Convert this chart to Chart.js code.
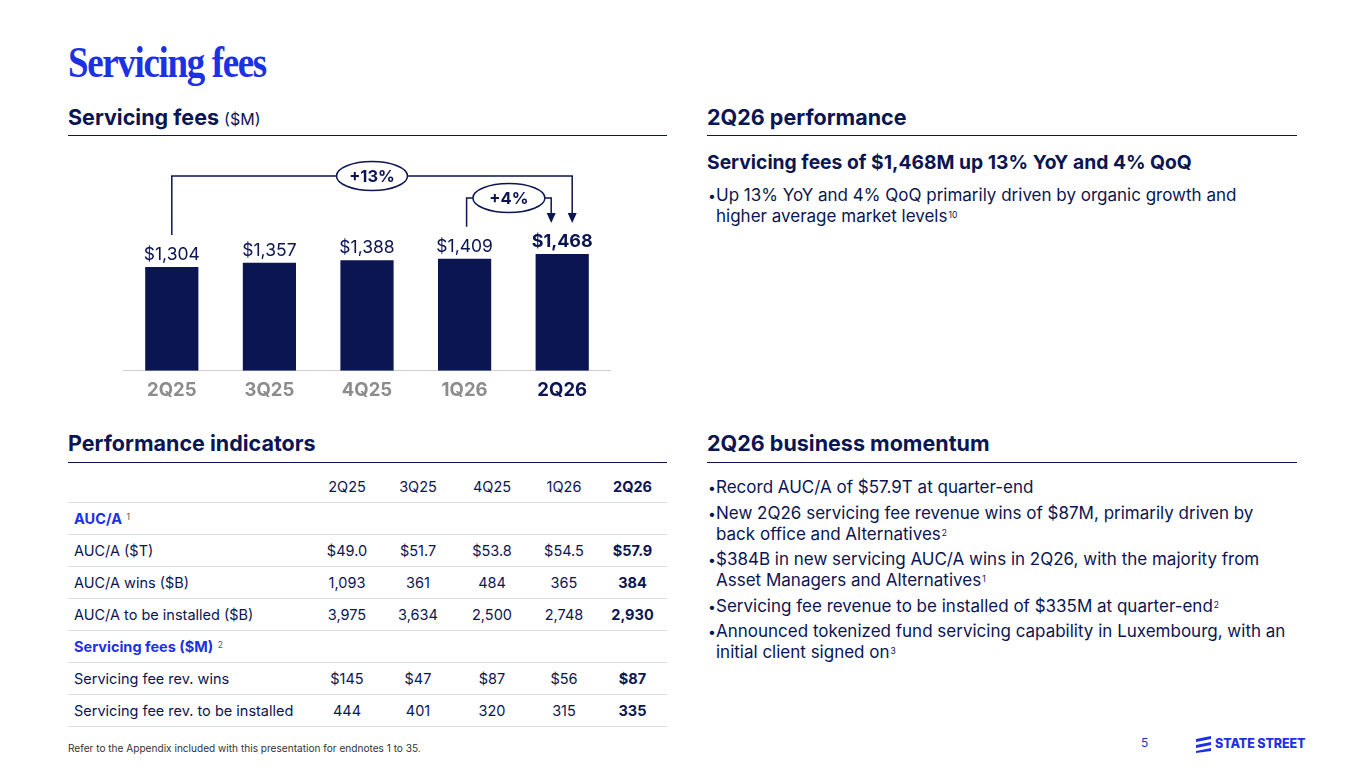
<!DOCTYPE html>
<html>
<head>
<meta charset="utf-8">
<script src="https://cdn.jsdelivr.net/npm/chart.js@4"></script>
<style>
  body { margin: 0; width: 1365px; height: 768px; background: #fff; font-family: Inter, sans-serif; color: #0b1552; position: relative; overflow: hidden; }
  .abs { position: absolute; }
  .title { left: 68px; top: 36px; font-family: "Liberation Serif", serif; font-weight: bold; font-size: 45px; letter-spacing: -1.6px; color: #1c31e4; transform: scaleX(0.82); transform-origin: left; }
  .head { font-weight: 700; font-size: 21.5px; color: #0b1552; }
  .head small { font-weight: 400; font-size: 16px; }
  .rule { height: 1px; background: #0b1552; }
  .lead { font-weight: 700; font-size: 19.3px; }
  ul { margin: 0; padding: 0; list-style: none; font-size: 17px; line-height: 21px; }
  li { position: relative; padding-left: 9px; margin-bottom: 4.5px; }
  li::before { content: "\2022"; position: absolute; left: 1px; top: 0; font-size: 14px; }
  sup { font-size: 8.5px; vertical-align: 4px; line-height: 1; margin-left: 1px; }
  table { border-collapse: collapse; font-size: 14.5px; table-layout: fixed; }
  td { height: 31px; border-bottom: 1px solid #d6dfea; text-align: center; padding: 0; }
  td:first-child { text-align: left; padding-left: 6px; }
  tr.sec td:first-child { color: #1c31e4; font-weight: 700; }
  tr.sec sup { color: #555; font-weight: 400; }
  td.b { font-weight: 700; }
  .foot { left: 68px; top: 742px; font-size: 10.1px; color: #333; }
</style>
</head>
<body>
<div class="abs title">Servicing fees</div>

<div class="abs head" style="left:68px; top:104px;">Servicing fees <small>($M)</small></div>
<div class="abs rule" style="left:68px; top:135px; width:599px;"></div>

<div class="abs head" style="left:707px; top:104px;">2Q26 performance</div>
<div class="abs rule" style="left:707px; top:135px; width:590px;"></div>

<div class="abs" style="left:123px; top:140px; width:488px; height:271px;"><canvas id="feesChart"></canvas></div>

<div class="abs lead" style="left:707px; top:150px;">Servicing fees of $1,468M up 13% YoY and 4% QoQ</div>
<ul class="abs" style="left:707px; top:185px; width:560px;">
  <li>Up 13% YoY and 4% QoQ primarily driven by organic growth and higher average market levels<sup>10</sup></li>
</ul>

<div class="abs head" style="left:68px; top:430px;">Performance indicators</div>
<div class="abs rule" style="left:68px; top:462px; width:599px;"></div>

<div class="abs head" style="left:707px; top:430px;">2Q26 business momentum</div>
<div class="abs rule" style="left:707px; top:462px; width:590px;"></div>

<table class="abs" style="left:68px; top:471px; width:599px;">
  <colgroup><col style="width:244px"><col style="width:70px"><col style="width:72px"><col style="width:76px"><col style="width:68px"><col style="width:69px"></colgroup>
  <tr><td></td><td>2Q25</td><td>3Q25</td><td>4Q25</td><td>1Q26</td><td class="b">2Q26</td></tr>
  <tr class="sec"><td>AUC/A <sup>1</sup></td><td></td><td></td><td></td><td></td><td></td></tr>
  <tr><td>AUC/A ($T)</td><td>$49.0</td><td>$51.7</td><td>$53.8</td><td>$54.5</td><td class="b">$57.9</td></tr>
  <tr><td>AUC/A wins ($B)</td><td>1,093</td><td>361</td><td>484</td><td>365</td><td class="b">384</td></tr>
  <tr><td>AUC/A to be installed ($B)</td><td>3,975</td><td>3,634</td><td>2,500</td><td>2,748</td><td class="b">2,930</td></tr>
  <tr class="sec"><td>Servicing fees ($M) <sup>2</sup></td><td></td><td></td><td></td><td></td><td></td></tr>
  <tr><td>Servicing fee rev. wins</td><td>$145</td><td>$47</td><td>$87</td><td>$56</td><td class="b">$87</td></tr>
  <tr><td>Servicing fee rev. to be installed</td><td>444</td><td>401</td><td>320</td><td>315</td><td class="b">335</td></tr>
</table>

<ul class="abs" style="left:707px; top:477px; width:580px;">
  <li>Record AUC/A of $57.9T at quarter-end</li>
  <li>New 2Q26 servicing fee revenue wins of $87M, primarily driven by back office and Alternatives<sup>2</sup></li>
  <li>$384B in new servicing AUC/A wins in 2Q26, with the majority from Asset Managers and Alternatives<sup>1</sup></li>
  <li>Servicing fee revenue to be installed of $335M at quarter-end<sup>2</sup></li>
  <li>Announced tokenized fund servicing capability in Luxembourg, with an initial client signed on<sup>3</sup></li>
</ul>

<div class="abs foot">Refer to the Appendix included with this presentation for endnotes 1 to 35.</div>
<div class="abs" style="left:1141px; top:735px; font-size:12px; color:#1c31e4;">5</div>
<svg class="abs" style="left:1195px; top:735px;" width="18" height="18" viewBox="0 0 18 18">
  <path d="M1 4 L16 1 L16 4 L1 7 Z M1 10 L16 7 L16 10 L1 13 Z M1 16 L16 13 L16 16 L1 18 Z" fill="#1c31e4"/>
</svg>
<div class="abs" style="left:1215px; top:736px; font-size:12.5px; font-weight:800; color:#1c31e4; letter-spacing:-0.1px;">STATE STREET</div>

<script>
const quarters = ['2Q25', '3Q25', '4Q25', '1Q26', '2Q26'];
const fees = [1304, 1357, 1388, 1409, 1468];
const growthLabels = ['+13%', '+4%'];

const navy = '#0b1552';
Chart.defaults.font.family = 'Inter';

const barLabels = {
  id: 'barLabels',
  afterDatasetsDraw(chart) {
    const ctx = chart.ctx;
    const bars = chart.getDatasetMeta(0).data;
    bars.forEach((bar, i) => {
      const last = i === bars.length - 1;
      ctx.save();
      ctx.font = (last ? '700 18px' : '400 17.5px') + ' Inter';
      ctx.fillStyle = navy;
      ctx.textAlign = 'center';
      ctx.textBaseline = 'alphabetic';
      ctx.fillText('$' + fees[i].toLocaleString('en-US'), bar.x, bar.y - 7);
      ctx.restore();
    });
  }
};

function bracket(ctx, x1, y1, yTop, x2, yTip, rx, label) {
  ctx.save();
  ctx.strokeStyle = navy;
  ctx.fillStyle = navy;
  ctx.lineWidth = 1.5;
  ctx.beginPath();
  ctx.moveTo(x1, y1);
  ctx.lineTo(x1, yTop);
  ctx.lineTo(x2, yTop);
  ctx.lineTo(x2, yTip - 9);
  ctx.stroke();
  ctx.beginPath();
  ctx.moveTo(x2 - 4.5, yTip - 10);
  ctx.lineTo(x2 + 4.5, yTip - 10);
  ctx.lineTo(x2, yTip);
  ctx.closePath();
  ctx.fill();
  const cx = (x1 + x2) / 2;
  ctx.beginPath();
  ctx.ellipse(cx, yTop, rx, 14.5, 0, 0, Math.PI * 2);
  ctx.fillStyle = '#fff';
  ctx.fill();
  ctx.stroke();
  ctx.fillStyle = navy;
  ctx.font = '700 16.5px Inter';
  ctx.textAlign = 'center';
  ctx.textBaseline = 'middle';
  ctx.fillText(label, cx, yTop + 1);
  ctx.restore();
}

const growthBrackets = {
  id: 'growthBrackets',
  afterDatasetsDraw(chart) {
    const ctx = chart.ctx;
    const b = chart.getDatasetMeta(0).data;
    const last = b[b.length - 1];
    bracket(ctx, b[0].x, b[0].y - 32, last.y - 78, last.x + 10, last.y - 31, 35.5, growthLabels[0]);
    bracket(ctx, b[3].x + 2, b[3].y - 32, last.y - 56, last.x - 11, last.y - 31, 36, growthLabels[1]);
  }
};

new Chart(document.getElementById('feesChart'), {
  type: 'bar',
  data: {
    labels: quarters,
    datasets: [{
      data: fees,
      backgroundColor: navy,
      barPercentage: 0.545,
      categoryPercentage: 1
    }]
  },
  options: {
    responsive: true,
    maintainAspectRatio: false,
    animation: false,
    layout: { padding: 0 },
    plugins: {
      legend: { display: false },
      tooltip: { enabled: false }
    },
    scales: {
      y: { display: false, min: 0, max: 2900 },
      x: {
        grid: { display: false, drawTicks: false },
        border: { display: true, color: '#cfcfcf', width: 1 },
        ticks: {
          padding: 9,
          font: { size: 18.5, weight: '700' },
          color: (c) => c.index === quarters.length - 1 ? navy : '#8c8c8c'
        }
      }
    }
  },
  plugins: [barLabels, growthBrackets]
});
</script>
</body>
</html>
